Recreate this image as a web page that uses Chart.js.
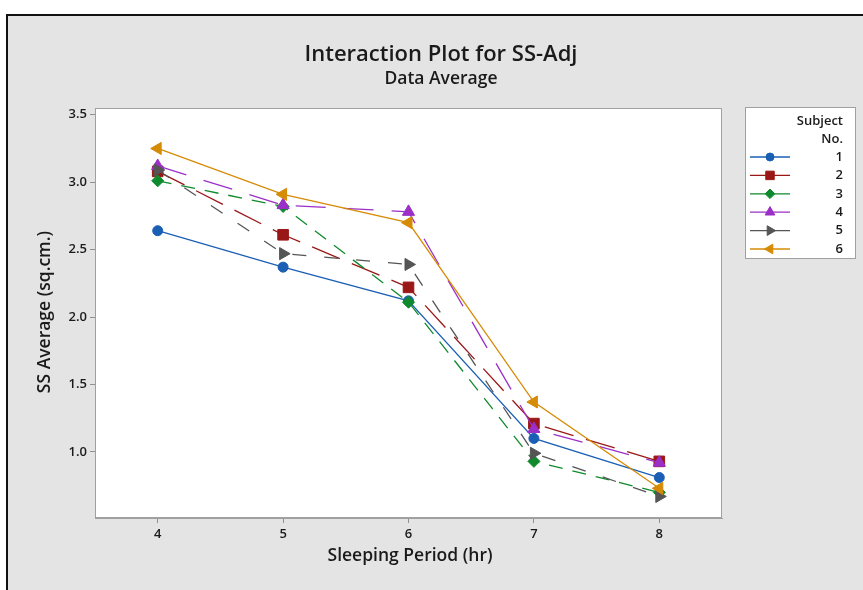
<!DOCTYPE html>
<html><head><meta charset="utf-8">
<script src="https://cdn.jsdelivr.net/npm/chart.js@4/dist/chart.umd.min.js"></script>
<style>html,body{margin:0;padding:0;background:#fff}canvas{display:block}</style>
</head><body>
<div style="width:863px;height:590px"><canvas id="c" width="863" height="590"></canvas></div>
<script>
const hours = [4, 5, 6, 7, 8];
const subjects = ['1', '2', '3', '4', '5', '6'];
const s1 = [2.64, 2.37, 2.12, 1.10, 0.81];
const s2 = [3.08, 2.61, 2.22, 1.21, 0.93];
const s3 = [3.01, 2.82, 2.11, 0.93, 0.70];
const s4 = [3.12, 2.83, 2.78, 1.17, 0.92];
const s5 = [3.09, 2.47, 2.39, 0.99, 0.67];
const s6 = [3.25, 2.91, 2.70, 1.37, 0.73];
const yTicks = [1.0, 1.5, 2.0, 2.5, 3.0, 3.5];
const seriesValues = [s1, s2, s3, s4, s5, s6];

const colors = ['#1a5fb4', '#9a1717', '#0f8a2c', '#9b2fc7', '#555555', '#d68b05'];
const shapes = ['circle', 'rect', 'rectRot', 'triangle', 'triangle', 'triangle'];
const rots = [0, 0, 0, 0, 90, -90];
const radii = [5, 7.5, 6, 7, 7, 7];
const dashes = [[], [30, 13], [14, 10], [30, 18], [14, 18], []];
const FONT = '"Open Sans", "Noto Sans", sans-serif';

const datasets = subjects.map((s, i) => ({
  label: s,
  data: hours.map((h, j) => ({x: h, y: seriesValues[i][j]})),
  borderColor: colors[i],
  backgroundColor: colors[i],
  pointBackgroundColor: colors[i],
  pointBorderColor: colors[i],
  pointStyle: shapes[i],
  rotation: rots[i],
  pointRotation: rots[i],
  pointRadius: radii[i],
  pointBorderWidth: 1,
  borderWidth: 1.3,
  borderDash: dashes[i],
  tension: 0,
  order: subjects.length - i
}));

const deco = {
  id: 'deco',
  beforeDraw(chart) {
    const ctx = chart.ctx;
    ctx.save();
    ctx.fillStyle = '#fff';
    ctx.fillRect(0, 0, 863, 590);
    ctx.fillStyle = '#e4e4e4';
    ctx.fillRect(7, 15, 856, 575);
    ctx.strokeStyle = '#111';
    ctx.lineWidth = 2;
    ctx.beginPath();
    ctx.moveTo(7, 590); ctx.lineTo(7, 15); ctx.lineTo(863, 15);
    ctx.stroke();
    const a = chart.chartArea;
    ctx.fillStyle = '#fff';
    ctx.fillRect(a.left, a.top, a.right - a.left, a.bottom - a.top);
    ctx.restore();
  },
  afterDraw(chart) {
    const ctx = chart.ctx;
    const a = chart.chartArea;
    ctx.save();
    ctx.strokeStyle = '#a0a0a0';
    ctx.lineWidth = 1;
    ctx.strokeRect(a.left + 0.5, a.top + 0.5, a.right - a.left - 1, a.bottom - a.top - 1);
    ctx.fillStyle = '#1a1a1a';
    ctx.textAlign = 'center';
    ctx.textBaseline = 'middle';
    ctx.font = '600 22px ' + FONT;
    ctx.fillText('Interaction Plot for SS-Adj', 441, 55);
    ctx.font = '600 17.5px ' + FONT;
    ctx.fillText('Data Average', 441, 79);
    ctx.font = '600 17.5px ' + FONT;
    ctx.fillText('Sleeping Period (hr)', 410, 556);
    ctx.save();
    ctx.translate(45, 312);
    ctx.rotate(-Math.PI / 2);
    ctx.fillText('SS Average (sq.cm.)', 0, 0);
    ctx.restore();

    // legend
    const lx = 745, ly = 107, lw = 110, lh = 151;
    ctx.fillStyle = '#fff';
    ctx.fillRect(lx, ly, lw, lh);
    ctx.strokeStyle = '#a0a0a0';
    ctx.lineWidth = 1;
    ctx.strokeRect(lx + 0.5, ly + 0.5, lw, lh);
    ctx.fillStyle = '#1a1a1a';
    ctx.textAlign = 'right';
    ctx.font = '600 13px ' + FONT;
    ctx.fillText('Subject', 843, 121);
    ctx.fillText('No.', 843, 139);
    chart.data.datasets.forEach((ds, i) => {
      const y = 157 + i * 18.4;
      ctx.strokeStyle = ds.borderColor;
      ctx.lineWidth = 1.3;
      ctx.setLineDash(i === 2 ? [16, 8] : []);
      ctx.beginPath();
      ctx.moveTo(750, y); ctx.lineTo(790, y);
      ctx.stroke();
      ctx.setLineDash([]);
      ctx.fillStyle = ds.pointBackgroundColor;
      ctx.strokeStyle = ds.pointBorderColor;
      ctx.lineWidth = 1;
      Chart.helpers.drawPoint(ctx, {
        pointStyle: ds.pointStyle, rotation: ds.pointRotation, radius: ds.pointRadius * 0.8, borderWidth: 1
      }, 770, y);
      ctx.fillStyle = '#1a1a1a';
      ctx.fillText(ds.label, 843, y);
    });
    ctx.restore();
  }
};

new Chart(document.getElementById('c'), {
  type: 'line',
  data: {datasets},
  options: {
    responsive: false,
    animation: false,
    devicePixelRatio: 1,
    layout: {padding: {left: 8, top: 108, right: 141, bottom: 0}},
    plugins: {legend: {display: false}, title: {display: false}, tooltip: {enabled: false}},
    scales: {
      x: {
        type: 'linear', min: 3.5, max: 8.5,
        afterBuildTicks: s => { s.ticks = hours.map(v => ({value: v})); },
        afterFit: s => { s.height = 72; },
        grid: {drawOnChartArea: false, drawTicks: true, tickLength: 5, color: '#909090'},
        border: {display: true, color: '#a0a0a0'},
        ticks: {color: '#1a1a1a', font: {family: FONT, size: 13, weight: '600'}, padding: 3, maxRotation: 0,
          callback: v => String(v)}
      },
      y: {
        type: 'linear', min: 0.51, max: 3.55,
        afterBuildTicks: s => { s.ticks = yTicks.map(v => ({value: v})); },
        afterFit: s => { s.width = 87; },
        grid: {drawOnChartArea: false, drawTicks: true, tickLength: 5, color: '#909090'},
        border: {display: true, color: '#a0a0a0'},
        ticks: {color: '#1a1a1a', font: {family: FONT, size: 13, weight: '600'}, padding: 3,
          callback: v => Number(v).toFixed(1)}
      }
    }
  },
  plugins: [deco]
});
</script>
</body></html>
